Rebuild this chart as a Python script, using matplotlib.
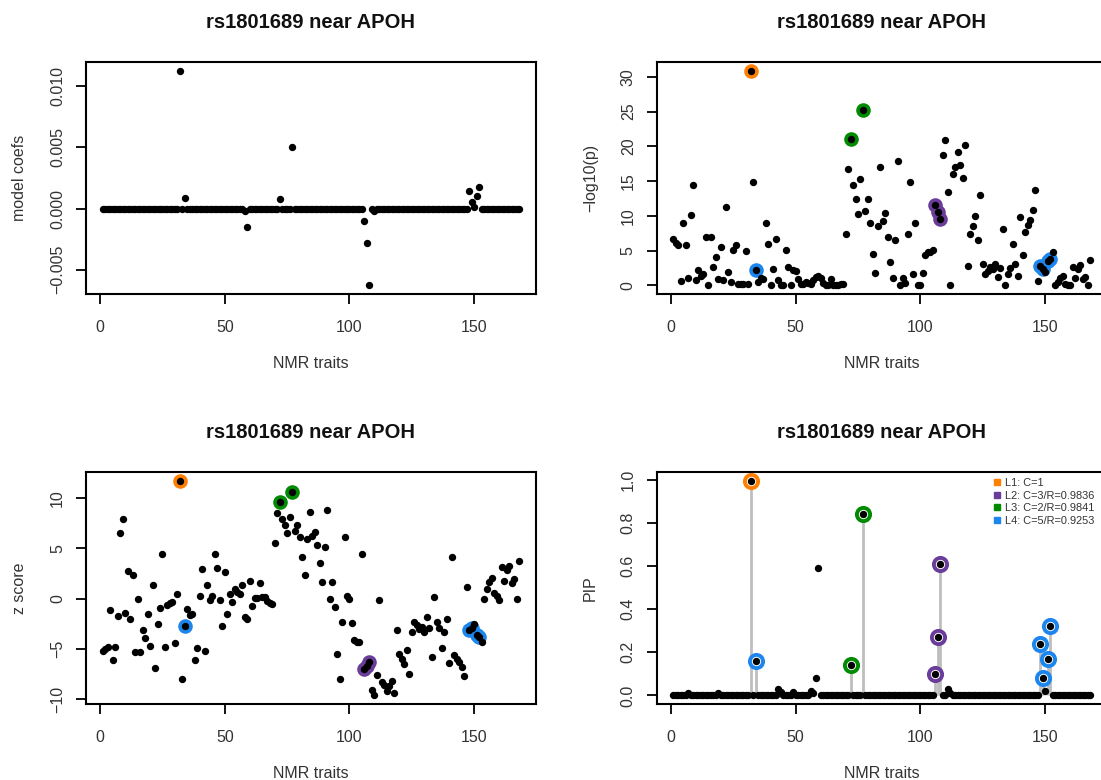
import numpy as np
import matplotlib.pyplot as plt
from matplotlib.lines import Line2D

plt.rcParams['font.family'] = ['Liberation Sans', 'DejaVu Sans']

title = "rs1801689 near APOH"
n_traits = 168
traits = np.arange(1, n_traits + 1)

# z scores, trait 1..168
z_score = [
    -5.2, -4.95, -4.8, -1.15, -6.1, -4.8, -1.7, 6.5, 7.85, -1.45,
    2.7, -2.05, 2.3, -5.3, -0.05, -5.3, -3.1, -3.95, -1.5, -4.7,
    1.35, -6.9, -2.5, -0.9, 4.45, -4.8, -0.6, -0.4, -0.35, -4.4,
    0.43, 11.7, -8.0, -2.7, -1.0, -1.65, -1.55, -6.1, -4.85, 0.25,
    2.9, -5.2, 1.3, -0.15, 0.3, 4.45, 3.05, -0.1, -2.7, 2.65,
    -1.55, 0.5, -0.35, 1.0, 0.65, 0.45, 1.35, -1.8, -2.05, 1.75,
    -0.75, 0.1, 0.1, 1.5, 0.15, 0.15, -0.25, -0.4, -0.55, 5.5,
    8.5, 9.6, 7.85, 7.25, 6.55, 8.1, 10.55, 6.7, 7.25, 6.1,
    4.15, 2.35, 5.95, 8.6, 6.2, 6.6, 5.3, 3.5, 1.65, 5.1,
    8.8, 0.0, 1.65, -0.8, -5.5, -8.0, -2.3, 6.1, 0.3, -0.05,
    -2.4, -4.1, -4.3, -4.3, 4.45, -7.0, -6.65, -6.25, -9.05, -9.6,
    -7.6, -0.15, -8.3, -8.6, -9.15, -8.65, -8.15, -9.4, -3.15, -5.5,
    -5.95, -6.45, -5.1, -7.45, -3.35, -2.3, -2.6, -3.05, -2.85, -3.35,
    -1.8, -2.95, -5.75, 0.15, -2.3, -2.95, -4.85, -3.3, -2.0, -6.4,
    4.1, -5.6, -6.0, -6.25, -6.75, -7.65, 1.1, -3.15, -2.9, -2.5,
    -3.6, -3.8, -4.3, 0.0, 1.0, 1.65, 2.0, 0.6, 0.3, -0.15,
    3.1, 1.75, 2.8, 3.25, 1.5, 1.9, 0.0, 3.7,
]

# -log10(p), trait 1..168
neg_log10_p = [
    6.70, 6.13, 5.80, 0.60, 8.98, 5.80, 1.05, 10.1, 14.4, 0.83,
    2.16, 1.39, 1.67, 6.94, 0.02, 6.94, 2.71, 4.11, 0.87, 5.58,
    0.75, 11.3, 1.91, 0.43, 5.07, 5.80, 0.26, 0.16, 0.14, 4.97,
    0.18, 30.9, 14.9, 2.16, 0.50, 1.00, 0.92, 8.98, 5.91, 0.09,
    2.43, 6.70, 0.71, 0.05, 0.12, 5.07, 2.64, 0.035, 2.16, 2.09,
    0.92, 0.21, 0.14, 0.50, 0.29, 0.19, 0.75, 1.14, 1.39, 1.09,
    0.34, 0.035, 0.035, 0.87, 0.05, 0.05, 0.09, 0.16, 0.24, 7.42,
    16.7, 21.1, 14.4, 12.4, 10.2, 15.3, 25.2, 10.7, 12.4, 8.98,
    4.47, 1.73, 8.57, 17.1, 9.25, 10.4, 6.94, 3.33, 1.00, 6.47,
    17.9, 0.0, 1.00, 0.37, 7.42, 14.9, 1.67, 8.98, 0.12, 0.02,
    1.79, 4.38, 4.77, 4.77, 5.07, 11.5, 10.5, 9.6, 18.8, 20.9,
    13.5, 0.05, 16.0, 17.1, 19.2, 17.3, 15.4, 20.2, 2.79, 7.42,
    8.57, 9.95, 6.47, 13.0, 3.09, 1.67, 2.03, 2.64, 2.36, 3.09,
    1.14, 2.50, 8.05, 0.05, 1.67, 2.50, 5.91, 3.01, 1.34, 9.81,
    4.38, 7.67, 8.71, 9.39, 10.8, 13.7, 0.57, 2.79, 2.43, 1.91,
    3.50, 3.84, 4.77, 0.0, 0.50, 1.00, 1.34, 0.26, 0.12, 0.05,
    2.71, 1.09, 2.29, 2.94, 0.87, 1.24, 0.0, 3.67,
]

# model coefficients: zero except these traits
coef_traits = [32, 34, 58, 59, 72, 77, 106, 107, 108, 110, 148, 149, 150, 151, 152]
coef_values = [0.0113, 0.0009, -0.0002, -0.0015, 0.0008, 0.0050, -0.0010, -0.0028,
               -0.0063, -0.0002, 0.0014, 0.0005, 0.0001, 0.0010, 0.0018]

# PIP: near zero except these traits
pip_floor = 0.003
pip_traits = [7, 19, 32, 34, 43, 44, 49, 56, 57, 58, 59, 72, 77, 106, 107, 108,
              111, 112, 148, 149, 150, 151, 152]
pip_values = [0.012, 0.012, 0.995, 0.16, 0.03, 0.015, 0.016, 0.02, 0.01, 0.08, 0.59,
              0.14, 0.84, 0.10, 0.27, 0.61, 0.03, 0.01, 0.24, 0.08, 0.02, 0.17, 0.32]

cs_labels = ["L1: C=1", "L2: C=3/R=0.9836", "L3: C=2/R=0.9841", "L4: C=5/R=0.9253"]
cs_colors = ["#FF7F00", "#6A3D9A", "#008B00", "#1C86EE"]
cs_members = [[32], [106, 107, 108], [72, 77], [34, 148, 149, 151, 152]]

coefs = np.zeros(n_traits)
coefs[np.array(coef_traits) - 1] = coef_values
pip = np.full(n_traits, pip_floor)
pip[np.array(pip_traits) - 1] = pip_values
z_score = np.array(z_score)
neg_log10_p = np.array(neg_log10_p)

W, H = 1101, 780
fig = plt.figure(figsize=(W / 100, H / 100), dpi=100)


def add_axes(x0, y0, x1, y1):
    return fig.add_axes([x0 / W, 1 - y1 / H, (x1 - x0) / W, (y1 - y0) / H])


def style(ax, ylabel, yticks, ylabels):
    ax.margins(0.04)
    ax.set_xticks([0, 50, 100, 150])
    ax.set_yticks(yticks)
    ax.set_yticklabels(ylabels, rotation=90, va='center')
    ax.tick_params(axis='both', direction='out', length=7, width=1.3,
                   labelsize=11.5, labelcolor='#333333')
    ax.tick_params(axis='x', pad=12)
    ax.tick_params(axis='y', pad=8)
    for s in ax.spines.values():
        s.set_linewidth(1.5)
    ax.set_xlabel("NMR traits", fontsize=11.5, color='#333333')
    ax.xaxis.set_label_coords(0.5, -0.30)
    ax.xaxis.label.set_va('center')
    ax.set_ylabel(ylabel, fontsize=11.5, color='#333333')
    ax.yaxis.set_label_coords(-0.147, 0.5)
    ax.yaxis.label.set_va('center')
    ax.text(0.5, 1.172, title, transform=ax.transAxes, ha='center', va='center',
            fontsize=14.5, fontweight='bold', color='#111111')


def minus(v, fmt):
    return (fmt % v).replace('-', '\u2212')


ax_coef = add_axes(86, 62, 535.7, 294)
ax_p = add_axes(656.7, 62, 1106.7, 294)
ax_z = add_axes(86, 472, 535.7, 704)
ax_pip = add_axes(656.7, 472, 1106.7, 704)

dot = 5.3

# model coefs
ax_coef.plot(traits, coefs, 'o', color='black', ms=dot, mew=0)
style(ax_coef, "model coefs", [-0.005, 0, 0.005, 0.010],
      [minus(v, '%.3f') for v in [-0.005, 0, 0.005, 0.010]])

# -log10(p) and z score with credible sets
for ax, vals in [(ax_p, neg_log10_p), (ax_z, z_score)]:
    for col, mem in zip(cs_colors, cs_members):
        idx = np.array(mem) - 1
        ax.plot(traits[idx], vals[idx], 'o', color=col, ms=10.5, mew=0, zorder=2)
    ax.plot(traits, vals, 'o', color='black', ms=dot, mew=0, zorder=3)

style(ax_p, "\u2212log10(p)", [0, 5, 10, 15, 20, 25, 30],
      [str(v) for v in [0, 5, 10, 15, 20, 25, 30]])
style(ax_z, "z score", [-10, -5, 0, 5, 10],
      [minus(v, '%d') for v in [-10, -5, 0, 5, 10]])

# PIP
for col, mem in zip(cs_colors, cs_members):
    idx = np.array(mem) - 1
    ax_pip.vlines(traits[idx], 0, pip[idx], color='#BEBEBE', lw=2.0, zorder=1)
    ax_pip.plot(traits[idx], pip[idx], 'o', ms=9.5, mfc='white', mec=col, mew=2.8, zorder=2)
ax_pip.plot(traits, pip, 'o', color='black', ms=dot, mew=0, zorder=3)
style(ax_pip, "PIP", [0, 0.2, 0.4, 0.6, 0.8, 1.0],
      ['%.1f' % v for v in [0, 0.2, 0.4, 0.6, 0.8, 1.0]])

handles = [Line2D([], [], marker='s', ls='none', color=c, ms=4.5) for c in cs_colors]
ax_pip.legend(handles, cs_labels, loc='upper left', bbox_to_anchor=(0.748, 0.975),
              frameon=False, fontsize=7.9, handlelength=0.6, handletextpad=0.5,
              labelspacing=0.25, borderpad=0, borderaxespad=0, labelcolor='#333333')

fig.savefig("out.png", dpi=100)
